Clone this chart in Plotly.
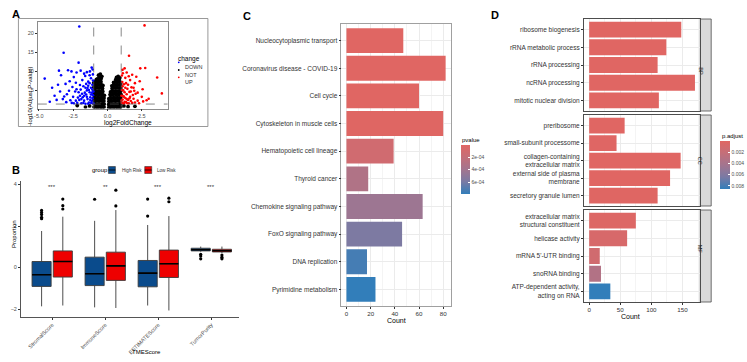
import plotly.graph_objects as go

W, H = 747, 362
FONT = "Liberation Sans, Arial, sans-serif"


def px(x):
    return x / W


def py(y):
    return 1 - y / H


# ---------------- Panel A : volcano ----------------
down_points = [
    (-2.05, 21.7), (-3.19, 14.8), (-2.1, 12.2), (-4.57, 8.0), (-3.53, 10.1), (-2.87, 10.2),
    (-2.62, 9.9), (-2.25, 9.6), (-1.95, 10.1), (-1.5, 9.7), (-1.28, 9.9), (-1.08, 10.4),
    (-1.15, 10.9), (-4.03, 5.6), (-4.2, 1.9), (-3.7, 2.4), (-3.38, 8.9), (-3.05, 6.6),
    (-3.45, 4.6), (-2.75, 7.3), (-2.45, 8.4), (-1.83, 7.6), (-1.62, 8.7), (-2.95, 3.9),
    (-3.25, 2.6), (-3.85, 3.5), (-3.6, 6.4), (-2.55, 5.8), (-2.3, 6.9), (-2.0, 6.3),
    (-1.75, 6.0), (-1.4, 7.2), (-1.2, 8.1), (-1.05, 7.5), (-3.0, 1.8), (-2.7, 2.3),
    (-2.5, 3.2), (-2.8, 4.8), (-3.15, 3.3), (-2.35, 4.6),
    (-2.2, 1.6), (-2.05, 2.4), (-1.9, 1.5), (-1.8, 3.1), (-1.7, 2.2), (-1.6, 1.4),
    (-1.55, 3.8), (-1.45, 2.6), (-1.35, 1.7), (-1.3, 4.4), (-1.25, 3.1), (-1.15, 2.1),
    (-1.1, 5.1), (-1.05, 3.6), (-1.02, 1.5), (-1.12, 4.3), (-1.2, 5.6), (-1.35, 5.0),
    (-1.5, 4.9), (-1.65, 4.3), (-1.85, 4.0), (-2.0, 3.5), (-2.15, 3.0), (-2.3, 2.2),
    (-2.45, 1.5), (-1.95, 5.1), (-1.6, 5.6), (-1.4, 6.1), (-1.1, 6.4), (-1.25, 2.4),
    (-1.4, 1.4), (-1.75, 1.6), (-2.1, 4.4), (-1.7, 3.5), (-1.5, 3.2), (-1.2, 3.8),
    (-1.08, 2.8), (-1.3, 6.8), (-1.55, 6.6), (-1.9, 2.6), (-2.6, 1.6), (-2.25, 5.2),
    (-1.02, 4.6), (-1.18, 1.6), (-1.45, 5.5), (-1.06, 9.1), (-1.3, 8.9), (-1.7, 9.3),
]
up_points = [
    (2.7, 22.0), (1.57, 14.0), (2.39, 10.7), (2.75, 10.8), (1.25, 10.7), (3.62, 8.3),
    (3.96, 4.1), (2.56, 5.2), (1.1, 10.3), (1.4, 9.6), (1.8, 9.0), (2.1, 8.5),
    (2.0, 6.8), (2.35, 7.3), (1.65, 7.6), (2.5, 3.2), (2.85, 2.3), (2.2, 4.3),
    (1.9, 5.6), (2.6, 2.0), (3.0, 2.7), (1.3, 8.2), (1.05, 8.8), (2.2, 2.2),
    (1.05, 1.6), (1.1, 2.5), (1.15, 3.4), (1.2, 1.5), (1.25, 4.4), (1.3, 2.9),
    (1.35, 1.8), (1.4, 3.9), (1.45, 5.3), (1.5, 2.4), (1.55, 1.5), (1.6, 4.5),
    (1.65, 3.2), (1.7, 2.1), (1.75, 5.7), (1.8, 1.6), (1.85, 3.7), (1.9, 2.7),
    (2.0, 1.7), (2.05, 4.0), (1.05, 5.0), (1.1, 6.0), (1.2, 6.5), (1.15, 4.9),
    (1.02, 3.5), (1.3, 5.6), (1.35, 6.8), (1.5, 6.4), (1.25, 1.9), (1.45, 1.5),
    (1.6, 2.8), (1.08, 7.1), (1.2, 3.2), (1.4, 2.6), (1.7, 4.6), (1.95, 4.8),
    (2.3, 1.5), (1.02, 2.2), (1.12, 9.4), (1.55, 8.6),
]
not_points = [
    (-0.98, 0.5), (-0.97, 1.4), (-0.99, 2.3), (-0.96, 3.1), (-0.98, 4.0), (-0.97, 4.9), (-0.99, 5.7), (-0.96, 6.4),
    (-0.86, 0.4), (-0.85, 1.2), (-0.87, 2.1), (-0.84, 2.9), (-0.86, 3.8), (-0.85, 4.6), (-0.87, 5.5), (-0.84, 6.3), (-0.86, 7.1),
    (-0.73, 0.5), (-0.72, 1.3), (-0.74, 2.2), (-0.71, 3.0), (-0.73, 3.9), (-0.72, 4.7), (-0.74, 5.6), (-0.71, 6.4), (-0.73, 7.2), (-0.72, 7.9),
    (-0.60, 0.4), (-0.59, 1.2), (-0.61, 2.1), (-0.58, 2.9), (-0.60, 3.8), (-0.59, 4.6), (-0.61, 5.5), (-0.58, 6.3), (-0.60, 7.1), (-0.59, 7.9), (-0.57, 8.5),
    (-0.47, 0.5), (-0.46, 1.3), (-0.48, 2.2), (-0.45, 3.0), (-0.47, 3.9), (-0.46, 4.7), (-0.48, 5.6), (-0.45, 6.4), (-0.47, 7.2), (-0.46, 8.0),
    (-0.35, 0.4), (-0.34, 1.2), (-0.36, 2.1), (-0.33, 2.9), (-0.35, 3.8), (-0.34, 4.6), (-0.36, 5.4), (-0.33, 6.2),
    (-0.25, 0.5), (-0.24, 1.3), (-0.26, 2.1), (-0.25, 2.9), (-0.23, 3.6),
    (-0.52, 9.2), (-0.65, 8.9), (-0.41, 8.6), (-0.92, 7.2), (-1.0, 6.9), (-0.80, 7.8),
    (0.10, 0.4), (0.09, 1.2), (0.11, 2.0), (0.10, 2.7),
    (0.21, 0.5), (0.20, 1.3), (0.22, 2.2), (0.21, 3.0), (0.19, 3.8), (0.22, 4.5),
    (0.33, 0.4), (0.34, 1.2), (0.32, 2.1), (0.33, 2.9), (0.35, 3.8), (0.33, 4.6), (0.34, 5.4), (0.32, 6.1),
    (0.46, 0.5), (0.45, 1.3), (0.47, 2.2), (0.46, 3.0), (0.44, 3.9), (0.47, 4.7), (0.45, 5.6), (0.46, 6.4), (0.45, 7.0),
    (0.59, 0.4), (0.60, 1.2), (0.58, 2.1), (0.59, 2.9), (0.61, 3.8), (0.58, 4.6), (0.60, 5.5), (0.59, 6.3), (0.61, 7.1), (0.60, 7.7),
    (0.72, 0.5), (0.71, 1.3), (0.73, 2.2), (0.72, 3.0), (0.70, 3.9), (0.73, 4.7), (0.71, 5.6), (0.72, 6.4), (0.74, 7.2), (0.72, 8.0),
    (0.85, 0.4), (0.84, 1.2), (0.86, 2.1), (0.85, 2.9), (0.83, 3.8), (0.86, 4.6), (0.84, 5.5), (0.85, 6.3), (0.87, 7.1), (0.85, 7.7),
    (0.96, 0.5), (0.97, 1.3), (0.95, 2.2), (0.96, 3.0), (0.98, 3.9), (0.95, 4.7), (0.97, 5.5), (0.96, 6.3), (0.98, 7.0),
    (0.78, 8.6), (0.66, 8.3), (0.90, 8.2),
    (-1.3, 0.8), (-1.6, 0.5), (-2.2, 0.9), (1.2, 0.8), (1.5, 0.6), (2.0, 0.7),
]
fc_cut = 1.0
p_cut = 1.3

# ---------------- Panel B : boxplots ----------------
tme_cats = ["StromalScore", "ImmuneScore", "ESTIMATEScore", "TumorPurity"]
high_q1 = [-0.91, -0.87, -0.93, 0.80]
high_med = [-0.35, -0.30, -0.27, 0.86]
high_q3 = [0.29, 0.50, 0.34, 0.93]
high_lo = [-1.87, -1.92, -1.83, 0.76]
high_hi = [1.76, 2.25, 2.05, 1.01]
high_out = [[2.75, 2.65, 2.55, 2.42, 2.35], [3.29], [3.30, 2.48], [0.64, 0.55, 0.42]]
low_q1 = [-0.46, -0.62, -0.48, 0.75]
low_med = [0.29, 0.08, 0.18, 0.81]
low_q3 = [0.80, 0.74, 0.84, 0.88]
low_lo = [-1.83, -1.95, -2.07, 0.70]
low_hi = [2.45, 2.77, 2.48, 1.01]
low_out = [[3.30, 2.98, 2.82], [3.73, 2.97], [3.34, 3.17], [0.60, 0.50, 0.42]]
sig_labels = ["***", "**", "***", "***"]
sig_y = 3.9

# ---------------- Panel C : KEGG ----------------
kegg_terms = ["Nucleocytoplasmic transport", "Coronavirus disease - COVID-19", "Cell cycle",
              "Cytoskeleton in muscle cells", "Hematopoietic cell lineage", "Thyroid cancer",
              "Chemokine signaling pathway", "FoxO signaling pathway", "DNA replication",
              "Pyrimidine metabolism"]
kegg_count = [47, 82, 60, 80, 39, 18, 63, 46, 17, 24]
kegg_p = [0.08e-4, 0.09e-4, 0.1e-4, 0.12e-4, 1.2e-4, 3.2e-4, 4.3e-4, 5.8e-4, 7.4e-4, 7.92e-4]

# ---------------- Panel D : GO ----------------
go_bp = ["ribosome biogenesis", "rRNA metabolic process", "rRNA processing",
         "ncRNA processing", "mitotic nuclear division"]
go_bp_count = [148, 124, 110, 170, 112]
go_bp_padj = [1e-6, 2e-6, 1.5e-6, 1e-6, 3e-6]
go_cc = ["preribosome", "small-subunit processome", "collagen-containing<br>extracellular matrix",
         "external side of plasma<br>membrane", "secretory granule lumen"]
go_cc_count = [57, 44, 147, 130, 110]
go_cc_padj = [2e-5, 5e-5, 1e-6, 3e-5, 4e-5]
go_mf = ["extracellular matrix<br>structural constituent", "helicase activity",
         "mRNA 5'-UTR binding", "snoRNA binding", "ATP-dependent activity,<br>acting on RNA"]
go_mf_count = [75, 61, 17, 19, 34]
go_mf_padj = [2e-4, 7e-4, 1.2e-3, 3.3e-3, 8.55e-3]

colorscale = [[0, "#327eba"], [0.25, "#7a7aa4"], [0.5, "#a3758f"], [0.75, "#c46f79"], [1, "#e06663"]]

fig = go.Figure()

# ---- A traces
for pts, col, size in [(not_points, "#000000", 3.8), (down_points, "#0000FF", 2.6), (up_points, "#FF0000", 2.6)]:
    fig.add_trace(go.Scatter(x=[p[0] for p in pts], y=[p[1] for p in pts], mode="markers",
                             marker=dict(color=col, size=size, line=dict(width=0)),
                             xaxis="x", yaxis="y", showlegend=False, hoverinfo="skip"))

# ---- B traces
off, bw = 0.2, 0.36
groups = [
    (high_q1, high_med, high_q3, high_lo, high_hi, high_out, "#0A4B8C", -1),
    (low_q1, low_med, low_q3, low_lo, low_hi, low_out, "#EE0000", 1),
]
for q1, med, q3, lo, hi, outs, col, sign in groups:
    pos = [i + sign * off for i in range(len(tme_cats))]
    fig.add_trace(go.Box(x=pos, q1=q1, median=med, q3=q3, lowerfence=lo, upperfence=hi,
                         width=bw, fillcolor=col, line=dict(color="#3a3a3a", width=0.9),
                         whiskerwidth=0, boxpoints=False, xaxis="x2", yaxis="y2",
                         showlegend=False, hoverinfo="skip"))
    mx, my = [], []
    for p, m in zip(pos, med):
        mx += [p - bw / 2, p + bw / 2, None]
        my += [m, m, None]
    fig.add_trace(go.Scatter(x=mx, y=my, mode="lines", line=dict(color="#000", width=1.6),
                             xaxis="x2", yaxis="y2", showlegend=False, hoverinfo="skip"))
    ox, oy = [], []
    for p, o in zip(pos, outs):
        ox += [p] * len(o)
        oy += o
    fig.add_trace(go.Scatter(x=ox, y=oy, mode="markers", marker=dict(color="#000", size=3.2),
                             xaxis="x2", yaxis="y2", showlegend=False, hoverinfo="skip"))

# ---- C traces
fig.add_trace(go.Bar(x=kegg_count, y=kegg_terms, orientation="h", width=0.9,
                     marker=dict(color=[-p for p in kegg_p], coloraxis="coloraxis", line=dict(width=0)),
                     xaxis="x3", yaxis="y3", showlegend=False, hoverinfo="skip"))

# ---- D traces
for terms, cnt, padj, xa, ya in [(go_bp, go_bp_count, go_bp_padj, "x4", "y4"),
                                 (go_cc, go_cc_count, go_cc_padj, "x5", "y5"),
                                 (go_mf, go_mf_count, go_mf_padj, "x6", "y6")]:
    fig.add_trace(go.Bar(x=cnt, y=terms, orientation="h", width=0.9,
                         marker=dict(color=[-p for p in padj], coloraxis="coloraxis2", line=dict(width=0)),
                         xaxis=xa, yaxis=ya, showlegend=False, hoverinfo="skip"))


def axstyle(**kw):
    base = dict(showgrid=False, zeroline=False, ticks="outside", ticklen=2, tickwidth=0.6,
                tickcolor="#333333", tickfont=dict(size=5.5, color="#4D4D4D", family=FONT),
                showline=True, linewidth=0.8, linecolor="#555555")
    base.update(kw)
    return base


tf65 = dict(size=6.5, color="#333333", family=FONT)
tfx = dict(size=6.2, color="#333333", family=FONT)
layout = dict(
    width=W, height=H, margin=dict(l=0, r=0, t=0, b=0), autosize=False,
    paper_bgcolor="white", plot_bgcolor="white", font=dict(family=FONT),
    # A
    xaxis=axstyle(domain=[px(34), px(164.5)], range=[-5.07, 4.38], tickvals=[-5, -2.5, 0, 2.5],
                  ticktext=["-5.0", "-2.5", "0.0", "2.5"], anchor="y", mirror=True, linecolor="#8c8c8c"),
    yaxis=axstyle(domain=[py(108.5), py(22)], range=[0.13, 22.9], tickvals=[5, 10, 15, 20],
                  anchor="x", mirror=True, linecolor="#8c8c8c"),
    # B
    xaxis2=axstyle(domain=[px(17), px(236.7)], range=[-0.59, 3.53], tickvals=list(range(len(tme_cats))),
                   ticktext=tme_cats, tickangle=-45, anchor="y2"),
    yaxis2=axstyle(domain=[py(316.7), py(181)], range=[-2.37, 4.17], tickvals=[-2, 0, 2, 4], anchor="x2"),
    # C
    xaxis3=axstyle(domain=[px(339.3), px(449)], range=[-4.1, 86.1], tickvals=[0, 20, 40, 60, 80],
                   showgrid=True, gridcolor="#EBEBEB", gridwidth=0.8, anchor="y3", mirror=True,
                   linecolor="#a0a0a0", tickfont=tfx,
                   minor=dict(tickvals=[10, 30, 50, 70], showgrid=True, gridcolor="#F4F4F4", gridwidth=0.5)),
    yaxis3=axstyle(domain=[py(306), py(24)], type="category", categoryorder="array",
                   categoryarray=kegg_terms, range=[9.6, -0.6], showgrid=True, gridcolor="#EBEBEB",
                   gridwidth=0.8, anchor="x3", mirror=True, linecolor="#a0a0a0", tickfont=tf65),
)
d_dom = {"4": (111, 19, go_bp), "5": (206, 115, go_cc), "6": (302, 210, go_mf)}
for k, (yb, yt, terms) in d_dom.items():
    last = k == "6"
    layout["xaxis" + k] = axstyle(domain=[px(583), px(700)], range=[-8.5, 178.5], tickvals=[0, 50, 100, 150],
                                  showticklabels=last, ticks="outside" if last else "",
                                  showgrid=True, gridcolor="#EBEBEB", gridwidth=0.8, anchor="y" + k,
                                  mirror=True, linecolor="#4d4d4d", tickfont=tfx,
                                  minor=dict(tickvals=[25, 75, 125, 175], showgrid=True,
                                             gridcolor="#F4F4F4", gridwidth=0.5))
    layout["yaxis" + k] = axstyle(domain=[py(yb), py(yt)], type="category", categoryorder="array",
                                  categoryarray=terms, range=[4.6, -0.6], showgrid=True,
                                  gridcolor="#EBEBEB", gridwidth=0.8, anchor="x" + k, mirror=True,
                                  linecolor="#4d4d4d", tickfont=tf65)

cbfont = dict(size=5, color="#4D4D4D", family=FONT)
layout["coloraxis"] = dict(
    colorscale=colorscale, cmin=-max(kegg_p), cmax=-min(kegg_p),
    colorbar=dict(x=px(459), xanchor="left", y=py(145), yanchor="top", len=49, lenmode="pixels",
                  thickness=9, thicknessmode="pixels", xpad=0, ypad=0, outlinewidth=0,
                  tickvals=[-2e-4, -4e-4, -6e-4], ticktext=["2e-04", "4e-04", "6e-04"],
                  ticks="inside", ticklen=2, tickcolor="white", tickfont=cbfont))
all_padj = go_bp_padj + go_cc_padj + go_mf_padj
layout["coloraxis2"] = dict(
    colorscale=colorscale, cmin=-max(all_padj), cmax=-min(all_padj),
    colorbar=dict(x=px(720), xanchor="left", y=py(141), yanchor="top", len=48, lenmode="pixels",
                  thickness=10, thicknessmode="pixels", xpad=0, ypad=0, outlinewidth=0,
                  tickvals=[-0.002, -0.004, -0.006, -0.008], ticktext=["0.002", "0.004", "0.006", "0.008"],
                  ticks="inside", ticklen=2, tickcolor="white", tickfont=cbfont))


def ann(text, x, y, size, color="#000000", **kw):
    return dict(text=text, x=px(x), y=py(y), xref="paper", yref="paper", showarrow=False,
                font=dict(size=size, color=color, family=FONT), **kw)


annotations = [
    ann("<b>A</b>", 6, 6, 11), ann("<b>B</b>", 6, 170, 11), ann("<b>C</b>", 238, 8, 11), ann("<b>D</b>", 500, 7, 11),
    ann("-log10(Adjust P-value)", 20.5, 65, 6, textangle=-90),
    ann("log2FoldChange", 99, 122.5, 6.5),
    ann("change", 172.5, 53.3, 6.5, xanchor="left"),
    ann("DOWN", 180, 62.3, 5.5, color="#333", xanchor="left"),
    ann("NOT", 180, 70, 5.5, color="#333", xanchor="left"),
    ann("UP", 180, 77.3, 5.5, color="#333", xanchor="left"),
    ann("Proportion", 5, 250, 6, textangle=-90),
    ann("TMEScore", 127, 357, 6),
    ann("group", 86, 170, 6, xanchor="left"),
    ann("High Risk", 116.5, 170, 4.6, color="#333", xanchor="left"),
    ann("Low Risk", 151.5, 170, 4.6, color="#333", xanchor="left"),
    ann("Count", 395, 326, 7),
    ann("pvalue", 458.5, 140, 6, xanchor="left"),
    ann("Count", 641.5, 322, 7),
    ann("p.adjust", 719.5, 136, 6, xanchor="left"),
]
for i, s in enumerate(sig_labels):
    annotations.append(dict(text=s, x=i, y=sig_y, xref="x2", yref="y2", showarrow=False,
                            font=dict(size=6, color="#333", family=FONT)))
for lab, (yb, yt) in zip(["BP", "CC", "MF"], [(111, 19), (206, 115), (302, 210)]):
    annotations.append(ann(lab, 705.5, (yb + yt) / 2, 5.5, color="#1a1a1a", textangle=90))

shapes = [
    dict(type="rect", xref="paper", yref="paper", x0=px(14.5), x1=px(205), y0=py(18.5), y1=py(126.5),
         line=dict(color="#7f7f7f", width=0.8)),
    dict(type="line", xref="x", yref="y domain", x0=-fc_cut, x1=-fc_cut, y0=0, y1=1,
         line=dict(color="#555", width=0.7, dash="dash")),
    dict(type="line", xref="x", yref="y domain", x0=fc_cut, x1=fc_cut, y0=0, y1=1,
         line=dict(color="#555", width=0.7, dash="dash")),
    dict(type="line", xref="x domain", yref="y", x0=0, x1=1, y0=p_cut, y1=p_cut,
         line=dict(color="#555", width=0.7, dash="dash")),
    # B legend keys
    dict(type="rect", xref="paper", yref="paper", x0=px(105), x1=px(112), y0=py(173.5), y1=py(166.5),
         fillcolor="#0A4B8C", line=dict(color="#333", width=0.6)),
    dict(type="line", xref="paper", yref="paper", x0=px(105), x1=px(112), y0=py(170), y1=py(170),
         line=dict(color="#000", width=0.8)),
    dict(type="rect", xref="paper", yref="paper", x0=px(141.5), x1=px(148.5), y0=py(173.5), y1=py(166.5),
         fillcolor="#EE0000", line=dict(color="#333", width=0.6)),
    dict(type="line", xref="paper", yref="paper", x0=px(141.5), x1=px(148.5), y0=py(170), y1=py(170),
         line=dict(color="#000", width=0.8)),
]
for col, yy in [("#0000FF", 62.3), ("#000000", 70), ("#FF0000", 77.3)]:
    shapes.append(dict(type="circle", xref="paper", yref="paper", x0=px(174.8), x1=px(176.6),
                       y0=py(yy - 0.9), y1=py(yy + 0.9), fillcolor=col, line=dict(width=0)))
for yb, yt in [(111, 19), (206, 115), (302, 210)]:
    shapes.append(dict(type="rect", xref="paper", yref="paper", x0=px(700), x1=px(711), y0=py(yb), y1=py(yt),
                       fillcolor="#D9D9D9", line=dict(color="#4d4d4d", width=0.8), layer="below"))

layout["annotations"] = annotations
layout["shapes"] = shapes
fig.update_layout(**layout)
fig.write_html("out.html")
